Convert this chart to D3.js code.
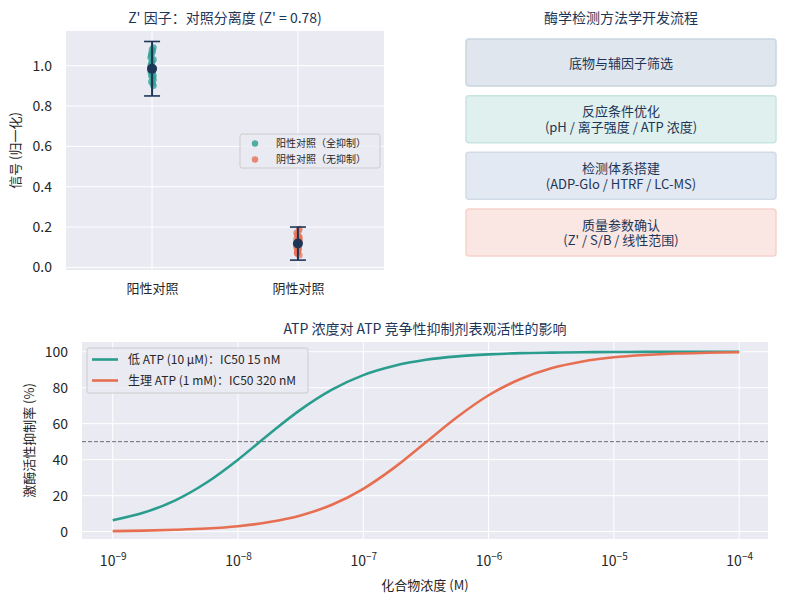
<!DOCTYPE html>
<html>
<head>
<meta charset="utf-8">
<script src="https://cdn.jsdelivr.net/npm/d3@7"></script>
<style>
  body { margin: 0; background: #fff; }
  svg text { font-family: "Noto Sans CJK SC", "Noto Sans", sans-serif; }
</style>
</head>
<body>
<div id="chart"></div>
<script>
// ---- data ----
const groups = ["阳性对照", "阴性对照"];
const groupLegend = ["阳性对照（全抑制）", "阴性对照（无抑制）"];
const posReplicates = [0.98, 1.02, 0.95, 1.05, 0.91, 0.99, 1.08, 0.93, 1.01, 0.97, 1.04, 0.96,
                       0.90, 1.06, 0.94, 1.00, 0.99, 1.03, 0.92, 1.07, 0.97, 0.98, 1.09, 0.95];
const negReplicates = [0.12, 0.09, 0.15, 0.07, 0.18, 0.11, 0.13, 0.06, 0.16, 0.10, 0.14, 0.08,
                       0.19, 0.12, 0.09, 0.17, 0.11, 0.13, 0.07, 0.15, 0.10, 0.12, 0.14, 0.08];
const groupMeans = [0.985, 0.118];
const groupSpread = [0.135, 0.082];   // 3 SD half-width of error bars
const yTicksTop = [0, 0.2, 0.4, 0.6, 0.8, 1.0];

const flowSteps = [
  ["底物与辅因子筛选"],
  ["反应条件优化", "(pH / 离子强度 / ATP 浓度)"],
  ["检测体系搭建", "(ADP-Glo / HTRF / LC-MS)"],
  ["质量参数确认", "(Z' / S/B / 线性范围)"]
];
const flowFill = ["#dfe6ee", "#dff0ee", "#e3e9f2", "#fae6e2"];
const flowStroke = ["#c9d5e1", "#c6e6df", "#d1dbe8", "#f5d3cb"];

// concentration (log10 M) and % inhibition
const logConc = [-9, -8.75, -8.5, -8.25, -8, -7.75, -7.5, -7.25, -7, -6.75, -6.5,
                 -6.25, -6, -5.75, -5.5, -5.25, -5, -4.75, -4.5, -4.25, -4];
const inhLowATP = [6.3, 10.6, 17.4, 27.3, 40.0, 54.3, 67.8, 78.9, 87.0, 92.2, 95.5,
                   97.4, 98.5, 99.2, 99.5, 99.7, 99.85, 99.9, 99.95, 99.97, 99.98];
const inhPhysATP = [0.3, 0.55, 1.0, 1.7, 3.0, 5.3, 9.0, 14.9, 23.8, 35.7, 49.7,
                    63.7, 75.8, 84.7, 90.8, 94.6, 96.9, 98.2, 99.0, 99.4, 99.7];
const curveNames = ["低 ATP (10 μM)：IC50 15 nM", "生理 ATP (1 mM)：IC50 320 nM"];
const xDecades = [-9, -8, -7, -6, -5, -4];
const yTicksBottom = [0, 20, 40, 60, 80, 100];

const teal = "#2a9d8f", coral = "#e76f51", navy = "#1d3557";
const textCol = "#262626", bgCol = "#eaeaf2";

const svg = d3.select("#chart").append("svg")
    .attr("width", 795).attr("height", 603);

// ================= top-left: Z' factor =================
const tl = { left: 66, right: 384, top: 31, bottom: 270 };
const xCat = d3.scaleLinear().domain([-0.59, 1.59]).range([tl.left, tl.right]);
const yTop = d3.scaleLinear().domain([-0.013, 1.172]).range([tl.bottom, tl.top]);

svg.append("rect").attr("x", tl.left).attr("y", tl.top)
    .attr("width", tl.right - tl.left).attr("height", tl.bottom - tl.top).attr("fill", bgCol);

// grid
svg.append("g").selectAll("line").data(yTicksTop).join("line")
    .attr("x1", tl.left).attr("x2", tl.right)
    .attr("y1", d => yTop(d)).attr("y2", d => yTop(d))
    .attr("stroke", "#fff").attr("stroke-width", 1);
svg.append("g").selectAll("line").data([0, 1]).join("line")
    .attr("x1", d => xCat(d)).attr("x2", d => xCat(d))
    .attr("y1", tl.top).attr("y2", tl.bottom)
    .attr("stroke", "#fff").attr("stroke-width", 1);

// axes
const yAxTop = svg.append("g").attr("transform", `translate(${tl.left},0)`)
    .call(d3.axisLeft(yTop).tickValues(yTicksTop).tickFormat(d3.format(".1f")).tickSize(0).tickPadding(14));
yAxTop.select(".domain").remove();
yAxTop.selectAll("text").attr("font-size", 14).attr("fill", textCol);

const xAxTop = svg.append("g").attr("transform", `translate(0,${tl.bottom})`)
    .call(d3.axisBottom(xCat).tickValues([0, 1]).tickFormat(i => groups[i]).tickSize(0).tickPadding(14));
xAxTop.select(".domain").remove();
xAxTop.selectAll("text").attr("font-size", 13).attr("fill", textCol);

// replicate points
const jitter = i => ((i * 7) % 5 - 2) * 0.7;
svg.append("g").selectAll("circle").data(posReplicates).join("circle")
    .attr("cx", (d, i) => xCat(0) + jitter(i)).attr("cy", d => yTop(d))
    .attr("r", 3.3).attr("fill", teal).attr("fill-opacity", 0.7);
svg.append("g").selectAll("circle").data(negReplicates).join("circle")
    .attr("cx", (d, i) => xCat(1) + jitter(i)).attr("cy", d => yTop(d))
    .attr("r", 3.3).attr("fill", coral).attr("fill-opacity", 0.7);

// error bars
const eb = svg.append("g").selectAll("g").data(groupMeans).join("g");
eb.append("line")
    .attr("x1", (d, i) => xCat(i)).attr("x2", (d, i) => xCat(i))
    .attr("y1", (d, i) => yTop(d - groupSpread[i])).attr("y2", (d, i) => yTop(d + groupSpread[i]))
    .attr("stroke", navy).attr("stroke-width", 2);
[-1, 1].forEach(s => {
  eb.append("line")
    .attr("x1", (d, i) => xCat(i) - 8).attr("x2", (d, i) => xCat(i) + 8)
    .attr("y1", (d, i) => yTop(d + s * groupSpread[i])).attr("y2", (d, i) => yTop(d + s * groupSpread[i]))
    .attr("stroke", navy).attr("stroke-width", 1.6);
});
eb.append("circle")
    .attr("cx", (d, i) => xCat(i)).attr("cy", d => yTop(d))
    .attr("r", 5).attr("fill", navy);

svg.append("text").attr("x", (tl.left + tl.right) / 2).attr("y", 23)
    .attr("text-anchor", "middle").attr("font-size", 14).attr("fill", navy)
    .text("Z' 因子：对照分离度 (Z' = 0.78)");
svg.append("text").attr("transform", `translate(20,${(tl.top + tl.bottom) / 2}) rotate(-90)`)
    .attr("text-anchor", "middle").attr("font-size", 13).attr("fill", textCol)
    .text("信号 (归一化)");

// legend
const lg1 = svg.append("g").attr("transform", "translate(240,134)");
lg1.append("rect").attr("width", 140).attr("height", 34).attr("rx", 2)
    .attr("fill", bgCol).attr("fill-opacity", 0.8).attr("stroke", "#cccccc");
[teal, coral].forEach((c, i) => {
  lg1.append("circle").attr("cx", 15).attr("cy", 9.5 + i * 16).attr("r", 3.2)
      .attr("fill", c).attr("fill-opacity", 0.8);
  lg1.append("text").attr("x", 36).attr("y", 13 + i * 16).attr("font-size", 10)
      .attr("fill", textCol).text(groupLegend[i]);
});

// ================= top-right: workflow =================
svg.append("text").attr("x", 621).attr("y", 23).attr("text-anchor", "middle")
    .attr("font-size", 14).attr("fill", navy).text("酶学检测方法学开发流程");
const boxY = d3.scaleBand().domain(d3.range(flowSteps.length)).range([39, 256]).paddingInner(0.17).paddingOuter(0);
const fb = svg.append("g").selectAll("g").data(flowSteps).join("g")
    .attr("transform", (d, i) => `translate(466,${boxY(i)})`);
fb.append("rect").attr("width", 310).attr("height", boxY.bandwidth()).attr("rx", 3)
    .attr("fill", (d, i) => flowFill[i]).attr("stroke", (d, i) => flowStroke[i]).attr("stroke-width", 1.5);
fb.each(function (d) {
  const h = boxY.bandwidth();
  // one text block per box, lines as tspans
  const t = d3.select(this).append("text")
      .attr("text-anchor", "middle").attr("font-size", 13).attr("fill", navy)
      .attr("y", h / 2 + 5 - (d.length - 1) / 2 * 15.6);
  d.forEach((line, k) => {
    t.append("tspan").attr("x", 155).attr("dy", k === 0 ? 0 : 15.6).text(line);
  });
});

// ================= bottom: dose response =================
const bt = { left: 82, right: 768, top: 342, bottom: 539 };
const xLog = d3.scaleLog().domain([Math.pow(10, -9.245), Math.pow(10, -3.77)]).range([bt.left, bt.right]);
const yInh = d3.scaleLinear().domain([-4.1, 105.4]).range([bt.bottom, bt.top]);

svg.append("rect").attr("x", bt.left).attr("y", bt.top)
    .attr("width", bt.right - bt.left).attr("height", bt.bottom - bt.top).attr("fill", bgCol);
svg.append("g").selectAll("line").data(yTicksBottom).join("line")
    .attr("x1", bt.left).attr("x2", bt.right)
    .attr("y1", d => yInh(d)).attr("y2", d => yInh(d))
    .attr("stroke", "#fff");
svg.append("g").selectAll("line").data(xDecades).join("line")
    .attr("x1", d => xLog(Math.pow(10, d))).attr("x2", d => xLog(Math.pow(10, d)))
    .attr("y1", bt.top).attr("y2", bt.bottom)
    .attr("stroke", "#fff");

const yAxB = svg.append("g").attr("transform", `translate(${bt.left},0)`)
    .call(d3.axisLeft(yInh).tickValues(yTicksBottom).tickSize(0).tickPadding(14));
yAxB.select(".domain").remove();
yAxB.selectAll("text").attr("font-size", 14).attr("fill", textCol);

const xAxB = svg.append("g").attr("transform", `translate(0,${bt.bottom})`)
    .call(d3.axisBottom(xLog).tickValues(xDecades.map(d => Math.pow(10, d))).tickFormat("").tickSize(0));
xAxB.select(".domain").remove();
xAxB.selectAll(".tick").each(function (d, i) {
  const t = d3.select(this).append("text").attr("y", 27).attr("text-anchor", "middle")
      .attr("font-size", 14).attr("fill", textCol);
  t.append("tspan").text("10");
  t.append("tspan").attr("dy", -6).attr("font-size", 10).text("−" + (-xDecades[i]));
});

// 50% reference
svg.append("line").attr("x1", bt.left).attr("x2", bt.right)
    .attr("y1", yInh(50)).attr("y2", yInh(50))
    .attr("stroke", "#6c6c7a").attr("stroke-width", 1).attr("stroke-dasharray", "4,2");

const line = d3.line()
    .x((d, i) => xLog(Math.pow(10, logConc[i])))
    .y(d => yInh(d))
    .curve(d3.curveMonotoneX);
svg.append("path").datum(inhLowATP).attr("d", line)
    .attr("fill", "none").attr("stroke", teal).attr("stroke-width", 2.6);
svg.append("path").datum(inhPhysATP).attr("d", line)
    .attr("fill", "none").attr("stroke", coral).attr("stroke-width", 2.6);

svg.append("text").attr("x", 425).attr("y", 334).attr("text-anchor", "middle")
    .attr("font-size", 14).attr("fill", navy)
    .text("ATP 浓度对 ATP 竞争性抑制剂表观活性的影响");
svg.append("text").attr("x", 425).attr("y", 590).attr("text-anchor", "middle")
    .attr("font-size", 13).attr("fill", textCol).text("化合物浓度 (M)");
svg.append("text").attr("transform", `translate(34,${(bt.top + bt.bottom) / 2}) rotate(-90)`)
    .attr("text-anchor", "middle").attr("font-size", 13).attr("fill", textCol)
    .text("激酶活性抑制率 (%)");

const lg2 = svg.append("g").attr("transform", "translate(87,348)");
lg2.append("rect").attr("width", 221).attr("height", 45).attr("rx", 2)
    .attr("fill", bgCol).attr("fill-opacity", 0.8).attr("stroke", "#cccccc");
[teal, coral].forEach((c, i) => {
  lg2.append("line").attr("x1", 5).attr("x2", 31).attr("y1", 11.5 + i * 21).attr("y2", 11.5 + i * 21)
      .attr("stroke", c).attr("stroke-width", 2.6);
  lg2.append("text").attr("x", 41).attr("y", 16 + i * 21).attr("font-size", 12)
      .attr("fill", textCol).text(curveNames[i]);
});
</script>
</body>
</html>
